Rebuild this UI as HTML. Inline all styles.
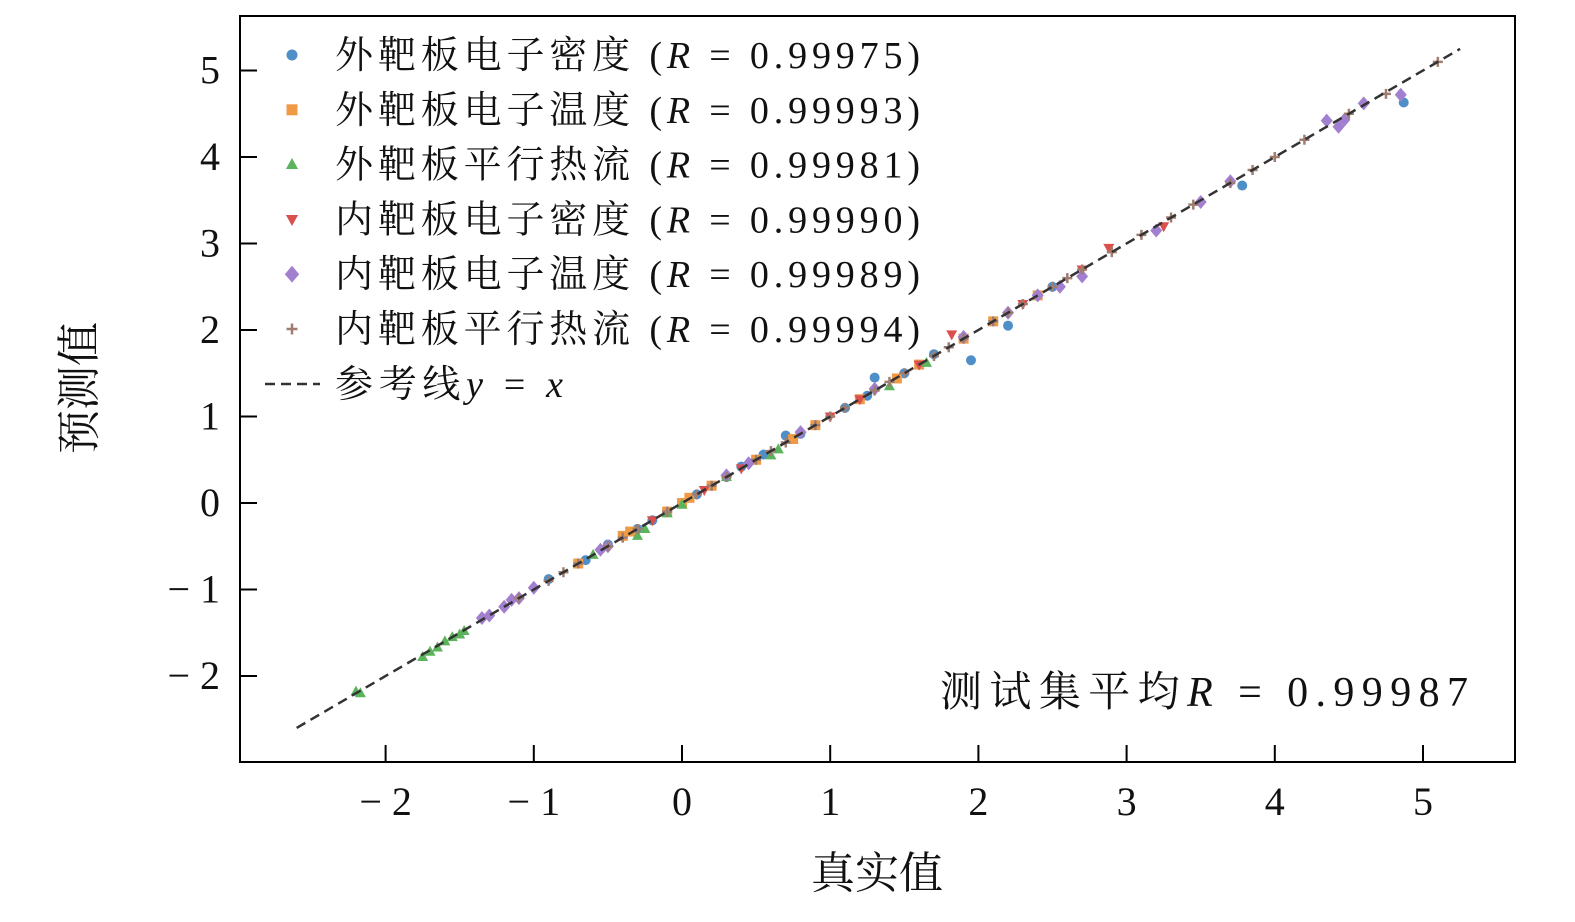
<!DOCTYPE html>
<html><head><meta charset="utf-8"><style>
body{margin:0;background:#fff;}
svg text{font-family:"Liberation Serif","Noto Serif CJK SC",serif;fill:#111;}
</style></head><body>
<svg id="chart" width="1575" height="917" xmlns="http://www.w3.org/2000/svg">
<rect x="0" y="0" width="1575" height="917" fill="#fff"/>
<g id="points"></g>
<line id="refline" stroke="#333" stroke-width="2.5" stroke-dasharray="10,6"/>
<rect x="240" y="16" width="1275" height="746" fill="none" stroke="#000" stroke-width="2"/>
<g id="xticks"></g>
<g id="yticks"></g>
<text x="877" y="888" font-size="44" text-anchor="middle">真实值</text>
<text transform="translate(94,388) rotate(-90)" font-size="44" text-anchor="middle">预测值</text>
<text x="940" y="706" font-size="42" textLength="528" lengthAdjust="spacing">测试集平均<tspan font-style="italic">R</tspan> = 0.99987</text>
<g id="legend"></g>
</svg>
<script>
const xTicks=[-2,-1,0,1,2,3,4,5];
const yTicks=[-2,-1,0,1,2,3,4,5];
const seriesNames=["外靶板电子密度","外靶板电子温度","外靶板平行热流","内靶板电子密度","内靶板电子温度","内靶板平行热流"];
const seriesR=["0.99975","0.99993","0.99981","0.99990","0.99989","0.99994"];
const refRange=[-2.6,5.25];
const s0x=[1.3,1.95,2.2,3.78,4.87,0.7,-0.5,-0.2,0.1,0.4,0.8,1.1,1.5,1.7,2.5,-0.9,-0.3,0.3,-0.65,0.55,1.25];
const s0y=[1.45,1.65,2.05,3.67,4.63,0.78,-0.48,-0.2,0.1,0.42,0.8,1.1,1.5,1.72,2.5,-0.88,-0.3,0.3,-0.66,0.56,1.24];
const s1x=[-0.4,-0.1,0.2,0.5,0.9,1.2,1.6,2.1,-0.7,0.0,1.9,2.4,-0.35,0.05,0.75,1.45];
const s1y=[-0.38,-0.1,0.2,0.5,0.9,1.2,1.6,2.1,-0.7,0.0,1.9,2.4,-0.33,0.06,0.74,1.44];
const s2x=[-2.2,-2.17,-1.75,-1.7,-1.65,-1.6,-1.55,-1.5,-1.47,-0.3,-0.6,0.6,1.4,1.65,0.0,0.3,-0.1,-0.25,0.65];
const s2y=[-2.18,-2.2,-1.78,-1.72,-1.67,-1.6,-1.55,-1.52,-1.48,-0.38,-0.6,0.55,1.35,1.62,-0.02,0.3,-0.12,-0.3,0.62];
const s3x=[1.82,2.88,3.25,1.2,0.4,-0.2,2.3,2.7,1.0,0.15,1.6];
const s3y=[1.95,2.95,3.2,1.2,0.4,-0.2,2.3,2.7,1.0,0.15,1.6];
const s4x=[-1.35,-1.3,-1.2,-1.15,-1.1,-1.0,3.2,3.5,3.7,4.35,4.43,4.47,4.6,4.85,2.7,2.55,2.4,1.9,0.8,-0.5,0.3,1.3,-0.55,0.45,2.2];
const s4y=[-1.33,-1.3,-1.2,-1.12,-1.1,-0.98,3.15,3.48,3.72,4.42,4.35,4.43,4.62,4.72,2.62,2.5,2.4,1.92,0.82,-0.5,0.32,1.32,-0.54,0.46,2.2];
const s5x=[-1.1,-0.9,-0.7,-0.5,-0.3,-0.1,0.1,0.3,0.5,0.7,0.9,1.1,1.3,1.5,1.7,1.9,2.1,2.3,2.5,2.7,2.9,3.1,3.3,3.45,3.7,3.85,4.0,4.2,4.5,4.75,5.1,-0.8,-0.4,0.2,0.6,1.0,1.4,1.8,2.2,2.6];
const s5y=[-1.1,-0.9,-0.7,-0.5,-0.3,-0.1,0.1,0.3,0.5,0.7,0.9,1.1,1.3,1.5,1.7,1.9,2.1,2.3,2.5,2.7,2.9,3.1,3.3,3.45,3.7,3.85,4.0,4.2,4.5,4.73,5.1,-0.8,-0.4,0.2,0.6,1.0,1.4,1.8,2.2,2.6];
const SX=[s0x,s1x,s2x,s3x,s4x,s5x], SY=[s0y,s1y,s2y,s3y,s4y,s5y];
const colors=["#4f8fc7","#f19a45","#5bb35b","#d9504f","#a27fcf","#a07d70"];
const X=v=>682+v*148.2, Y=v=>503-v*86.5;
const NS="http://www.w3.org/2000/svg";
function mk(tag,attrs,parent){const e=document.createElementNS(NS,tag);for(const k in attrs)e.setAttribute(k,attrs[k]);parent.appendChild(e);return e;}
function marker(i,cx,cy,r,parent){
 const c=colors[i];let e;
 if(i===0)e=mk("circle",{cx,cy,r:r,fill:c},parent);
 else if(i===1)e=mk("rect",{x:cx-r,y:cy-r,width:2*r,height:2*r,fill:c},parent);
 else if(i===2)e=mk("polygon",{points:`${cx},${cy-r*1.2} ${cx-r*1.1},${cy+r*0.8} ${cx+r*1.1},${cy+r*0.8}`,fill:c},parent);
 else if(i===3)e=mk("polygon",{points:`${cx},${cy+r*1.2} ${cx-r*1.1},${cy-r*0.8} ${cx+r*1.1},${cy-r*0.8}`,fill:c},parent);
 else if(i===4)e=mk("polygon",{points:`${cx},${cy-r*1.4} ${cx+r*1.2},${cy} ${cx},${cy+r*1.4} ${cx-r*1.2},${cy}`,fill:c},parent);
 else e=mk("path",{d:`M${cx-r},${cy}H${cx+r}M${cx},${cy-r}V${cy+r}`,stroke:c,"stroke-width":2.5},parent);
 return e;
}
const pg=document.getElementById("points");
for(let i=0;i<6;i++){for(let j=0;j<SX[i].length;j++){
 const e=marker(i,X(SX[i][j]),Y(SY[i][j]),5,pg);
 
 
}}
const rl=document.getElementById("refline");
rl.setAttribute("x1",X(refRange[0]));rl.setAttribute("y1",Y(refRange[0]));
rl.setAttribute("x2",X(refRange[1]));rl.setAttribute("y2",Y(refRange[1]));
const xg=document.getElementById("xticks");
xTicks.forEach(v=>{
 const l=mk("line",{x1:X(v),x2:X(v),y1:762,y2:745,stroke:"#000","stroke-width":2},xg);
 
 
 const t=mk("text",{x:X(v),y:815,"font-size":40,"text-anchor":"middle"},xg);
 t.textContent=v<0?"\u2212 "+(-v):String(v);
 
 
});
const yg=document.getElementById("yticks");
yTicks.forEach(v=>{
 const l=mk("line",{x1:240,x2:257,y1:Y(v),y2:Y(v),stroke:"#000","stroke-width":2},yg);
 
 
 const t=mk("text",{x:220,y:Y(v)+13,"font-size":40,"text-anchor":"end"},yg);
 t.textContent=v<0?"\u2212 "+(-v):String(v);
 
 
});
const lg=document.getElementById("legend");
for(let i=0;i<6;i++){
 const y=55+i*54.8;
 const m=marker(i,292,y,i===4?6:5.5,lg);
 
 
 const t=mk("text",{x:335,y:y+13,"font-size":38,textLength:585,lengthAdjust:"spacing"},lg);
 t.innerHTML=seriesNames[i]+" (<tspan font-style='italic'>R</tspan> = "+seriesR[i]+")";
 
 
}
const ll=mk("line",{x1:265,x2:320,y1:384,y2:384,stroke:"#333","stroke-width":2.5,"stroke-dasharray":"10,6"},lg);


const lt=mk("text",{x:335,y:397,"font-size":38,textLength:228,lengthAdjust:"spacing"},lg);
lt.innerHTML="参考线<tspan font-style='italic'>y</tspan> = <tspan font-style='italic'>x</tspan>";


</script>
</body></html>
